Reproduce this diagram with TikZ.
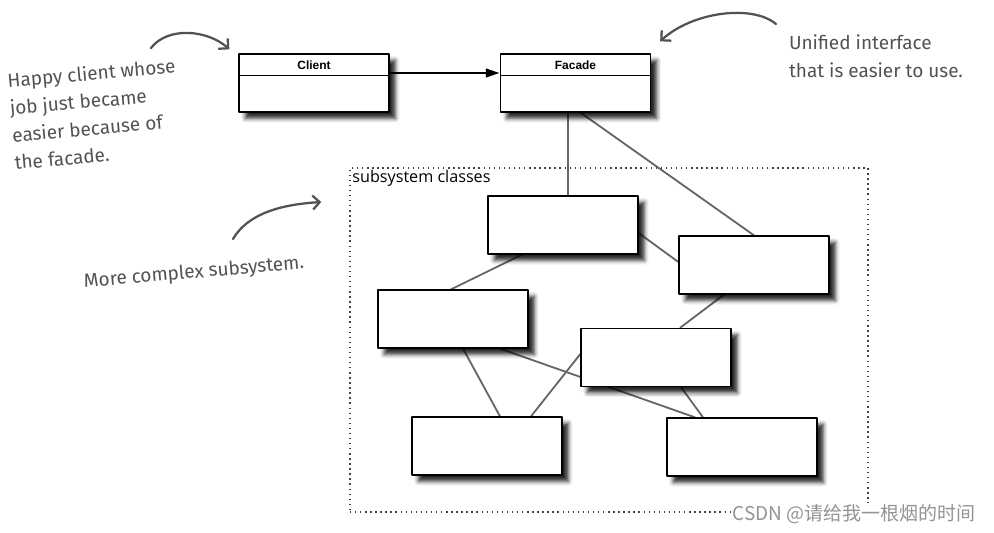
\documentclass[tikz,border=0pt]{standalone}
\usepackage{fontspec}
\setmainfont{Liberation Sans}
\newfontfamily\handfont{Fira Sans}
\newfontfamily\framefont{Open Sans}
\newfontfamily\cjkfont{Noto Sans CJK SC}
\usetikzlibrary{arrows.meta,calc,backgrounds,shadows.blur}
\begin{document}
\begin{tikzpicture}[x=0.025cm,y=-0.025cm,line join=round,
	cls/.style={draw=black,line width=0.9pt,fill=white,minimum width=3.75cm,minimum height=1.45cm,inner sep=0pt,blur shadow={shadow xshift=4.5pt,shadow yshift=-4.5pt,shadow blur radius=3pt,shadow opacity=85}},
	link/.style={draw=black!60,line width=1.3pt},
	note/.style={text=black!68,font=\handfont\fontsize{13.5}{19.5}\selectfont,align=left,inner sep=0pt},
	pointer/.style={black!68,line width=1.6pt,line cap=round,-{Straight Barb[length=5pt,width=10pt]}}]
\useasboundingbox (0,0) rectangle (994,533);
% classes
\node[cls] (client) at (314,83) {};
\node[cls] (facade) at (575.5,83) {};
\foreach \n/\t in {client/Client,facade/Facade}{
	\draw ($(\n.north west)+(0,22)$) -- ($(\n.north east)+(0,22)$);
	\node[font=\bfseries\fontsize{8.5}{10}\selectfont,inner sep=0pt] (\n-name) at ($(\n.north)+(0,12)$) {\t};}
\draw[line width=2pt,-{Triangle[length=10pt,width=6pt]}] ($(client.east)+(0,-10)$) -- ($(facade.west)+(0,-10)$);
% subsystem
\node[draw=black!75,line width=0.9pt,dash pattern=on 1pt off 2.6pt,minimum width=12.95cm,minimum height=8.6cm,inner sep=0pt] (subsys) at (609,340) {};
\node[anchor=north west,inner sep=2pt,font=\framefont\fontsize{11.5}{13}\selectfont] (subsys-title) at (subsys.north west) {subsystem classes};
\foreach \n/\x/\y in {s1/563/225,s2/754/265,s3/453/319,s4/656/357.5,s5/487/446,s6/742/447}{\node[cls] (\n) at (\x,\y) {};}
\begin{scope}[on background layer]
	\draw[link] ($(facade.south)+(-7.5,0)$) -- ($(s1.north)+(5,0)$);
	\draw[link] ($(facade.south)+(5,0)$) -- (s2.north);
	\draw[link] ($(s1.east)+(0,8)$) -- ($(s2.west)+(0,-3)$);
	\draw[link] ($(s1.south)+(-41,0)$) -- ($(s3.north)+(-2,0)$);
	\draw[link] ($(s2.south)+(-30,0)$) -- ($(s4.north)+(24,0)$);
	\draw[link] ($(s3.south)+(10,0)$) -- ($(s5.north)+(13,0)$);
	\draw[link] ($(s4.west)+(0,-3.5)$) -- ($(s5.north)+(44,0)$);
	\draw[link] ($(s3.south)+(47,0)$) -- ($(s6.north)+(-47,0)$);
	\draw[link] ($(s4.south)+(25,0)$) -- ($(s6.north)+(-39,0)$);
\end{scope}
% notes
\node[note,rotate=5] (happy) at (95,114) {Happy client whose\\job just became\\easier because of\\the facade.};
\node[note] (unified) at (876,56) {Unified interface\\that is easier to use.};
\node[note,rotate=5] (complex) at (194,273) {More complex subsystem.};
\coordinate (happy-tail) at (151,48);
\coordinate (unified-tail) at (776,24);
\coordinate (complex-tail) at (233,239);
\draw[pointer] (happy-tail) .. controls (168,26) and (208,30) .. ($(client.north west)+(-9,-4)$);
\draw[pointer] (unified-tail) .. controls (752,4) and (692,12) .. ($(facade.north east)+(9,-12)$);
\draw[pointer] (complex-tail) .. controls (250,210) and (290,204) .. ($(subsys.west)+(-28,-138)$);
\node[fill=white,inner sep=1pt,text=black!42,font=\cjkfont\fontsize{13.5}{15}\selectfont] (mark) at (854,514) {CSDN @请给我一根烟的时间};
\end{tikzpicture}
\end{document}
